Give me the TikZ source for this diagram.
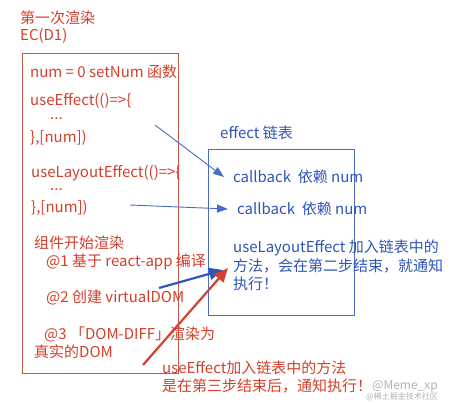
\documentclass[tikz,border=0pt]{standalone}
\usepackage{fontspec}
\setmainfont{Noto Sans CJK SC}
\usetikzlibrary{arrows.meta}
\definecolor{rtxt}{HTML}{D4402C}
\definecolor{rbox}{HTML}{C9584A}
\definecolor{btxt}{HTML}{2F55B8}
\definecolor{bbox}{HTML}{4A6CC4}
\begin{document}
\begin{tikzpicture}[x=1pt,y=-1pt,
  rt/.style={anchor=west,inner sep=0pt,text=rtxt,font=\fontsize{15}{17}\selectfont},
  bt/.style={anchor=west,inner sep=0pt,text=btxt,font=\fontsize{15}{17}\selectfont},
  barrow/.style={draw=bbox,line width=0.9pt,-{Triangle[length=11pt,width=8pt]}},
  bbarrow/.style={draw=btxt,line width=2.2pt,-{Triangle[length=14pt,width=12pt]}},
  rarrow/.style={draw=rtxt,line width=2.2pt,-{Triangle[length=14pt,width=12pt]}},
  wm/.style={anchor=west,inner sep=0pt,text=black!30}]
\useasboundingbox[fill=white] (0,0) rectangle (455,403);
% boxes
\node[draw=rbox,line width=0.8pt,minimum width=156pt,minimum height=320pt,anchor=north west,inner sep=0pt] (ec) at (22,53) {};
\node[draw=bbox,line width=0.8pt,minimum width=146pt,minimum height=166pt,anchor=north west,inner sep=0pt] (eff) at (208,149) {};
% titles
\node[rt] (t1) at (20,18) {第一次渲染};
\node[rt] (t2) at (20,36) {EC(D1)};
% left box texts
\node[rt] (l1) at (30,72) {num = 0 setNum 函数};
\node[rt] (l2) at (30,101) {useEffect(()=>\{};
\node[rt] (l3) at (50,119) {...};
\node[rt] (l4) at (30,138) {\},[num])};
\node[rt] (l5) at (31,173) {useLayoutEffect(()=>\{};
\node[rt] (l6) at (50,190) {...};
\node[rt] (l7) at (31,208) {\},[num])};
\node[rt] (l8) at (34,243) {组件开始渲染};
\node[rt] (l9) at (46,262) {@1 基于 react-app 编译};
\node[rt] (l10) at (46,297) {@2 创建 virtualDOM};
\node[rt] (l11) at (44,334) {@3 「DOM-DIFF」渲染为};
\node[rt] (l12) at (34,352) {真实的DOM};
% right box texts
\node[bt] (e0) at (220,133) {effect 链表};
\node[bt] (e1) at (233,177) {callback\ \ 依赖 num};
\node[bt] (e2) at (237,209) {callback\ \ 依赖 num};
\node[bt] (e3) at (233,248) {useLayoutEffect 加入链表中的};
\node[bt] (e4) at (233,266) {方法，会在第二步结束，就通知};
\node[bt] (e5) at (233,284) {执行！};
% bottom red text
\node[rt] (b1) at (162,368) {useEffect加入链表中的方法};
\node[rt] (b2) at (162,386) {是在第三步结束后，通知执行！};
% watermark
\node[wm,font=\fontsize{12}{14}\selectfont] (w1) at (372,386) {@Meme\_xp};
\node[wm,font=\fontsize{8}{10}\selectfont] (w2) at (366,397) {@稀土掘金技术社区};
% arrows
\coordinate (a1s) at (155,125);
\coordinate (a2s) at (130,205);
\coordinate (a3s) at (159,288);
\coordinate (a4s) at (143,365);
\draw[barrow] (a1s) -- ([xshift=-9pt]e1.west);
\draw[barrow] (a2s) -- ([xshift=-9pt]e2.west);
\draw[bbarrow] (a3s) -- ([xshift=-10pt,yshift=-4pt]e4.west);
\draw[rarrow] (a4s) -- ([xshift=-5pt,yshift=16pt]e5.west);
\end{tikzpicture}
\end{document}
